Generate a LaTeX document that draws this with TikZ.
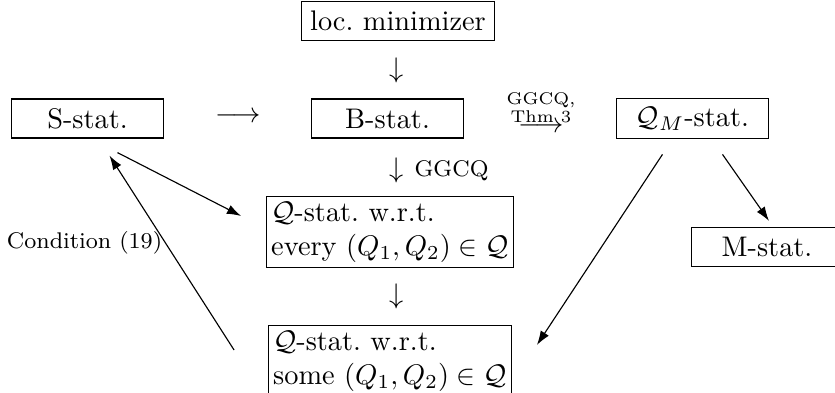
\documentclass[tikz,border=0pt]{standalone}
\usepackage{amssymb}
\usetikzlibrary{positioning,arrows.meta}

\tikzset{
  statbox/.style={draw, inner sep=3pt, minimum width=53.4pt, minimum height=13.8pt},
  twobox/.style={draw, align=left, inner xsep=1.6pt, inner ysep=2pt, minimum width=83.3pt},
  glyph/.style={inner sep=0pt},
  link/.style={-{Latex[length=5pt,width=3.4pt]}}
}

\begin{document}
\begin{tikzpicture}[x=0.3528pt,y=-0.3528pt]
\useasboundingbox (0,0) rectangle (835,393);
\foreach \nm/\x/\y/\txt in {loc/398/21/loc.\ minimizer,S/87.5/118.5/S-stat.,B/387.5/118.5/B-stat.,QM/692.5/118.5/$\mathcal{Q}_M$-stat.,M/767/247/M-stat.}
  \node[statbox] (\nm) at (\x,\y) {\txt};
\node[twobox] (every) at (390,232) {$\mathcal{Q}$-stat.\ w.r.t.\\every $(Q_1,Q_2)\in\mathcal{Q}$};
\node[twobox] (some) at (390,361) {$\mathcal{Q}$-stat.\ w.r.t.\\some $(Q_1,Q_2)\in\mathcal{Q}$};

% arrows written as symbols
\node[glyph] (dA) at (397,70) {$\downarrow$};
\node[glyph] (rA) at (238,117) {$\longrightarrow$};
\node[glyph] (dB) at (397,170) {$\downarrow$};
\node[glyph, font=\footnotesize, anchor=west] (ggcqB) at (414,171) {GGCQ};
\node[glyph] (dC) at (397,296) {$\downarrow$};
\node[glyph] (thmA) at (541,127) {$\longrightarrow$};
\node[glyph, font=\fontsize{6}{4.8}\selectfont, align=center] (thmL) at (541,108) {GGCQ,\\Thm 3};

% drawn arrows
\draw[link] ([shift={(30,14)}]S.south) -- ([shift={(-25,-16)}]every.west);
\draw[link] ([shift={(-34,-11)}]some.west) -- node[left, pos=0.55, font=\footnotesize, inner sep=1pt] (cond) {Condition (19)} ([shift={(22,17)}]S.south);
\draw[link] ([shift={(30,15)}]QM.south) -- ([shift={(2,-6)}]M.north);
\draw[link] ([shift={(-30,15)}]QM.south) -- ([shift={(25,-16)}]some.east);
\end{tikzpicture}
\end{document}
